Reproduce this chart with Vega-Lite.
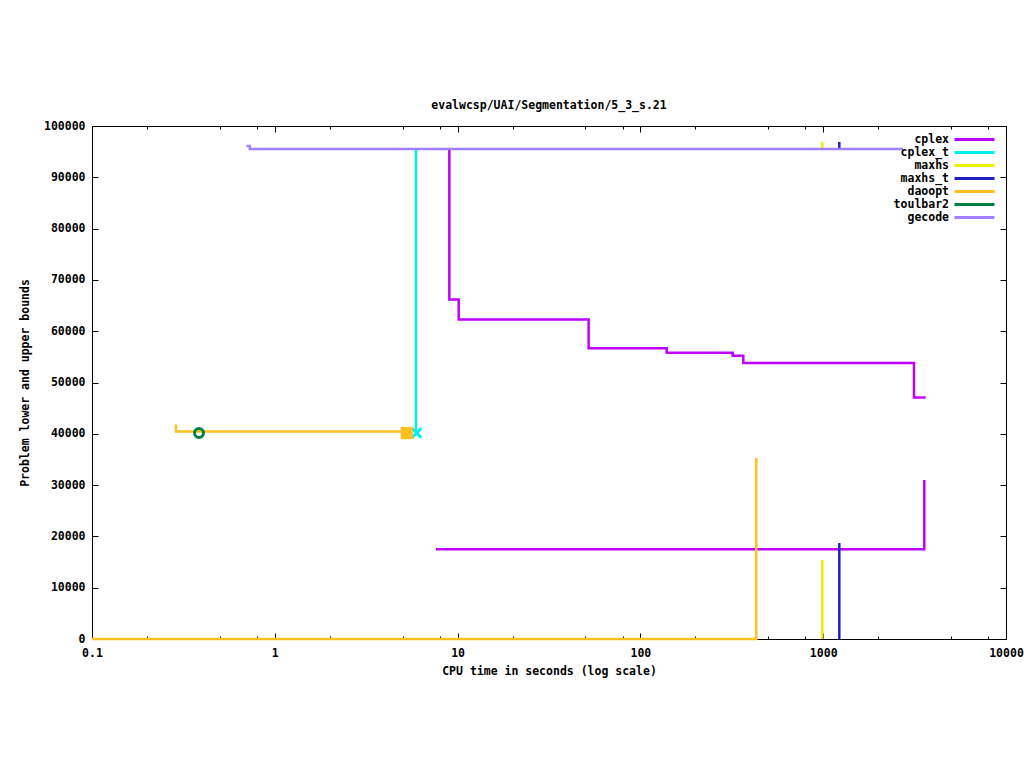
{
  "$schema": "https://vega.github.io/schema/vega-lite/v6.json",
  "width": 914,
  "height": 513,
  "autosize": "none",
  "padding": {"left": 92, "top": 126, "right": 18, "bottom": 129},
  "background": "white",
  "config": {
    "view": {"stroke": "black", "strokeWidth": 1},
    "font": "DejaVu Sans Mono",
    "axis": {
      "domain": false,
      "grid": false,
      "tickColor": "black",
      "tickWidth": 1,
      "labelColor": "black",
      "labelFont": "DejaVu Sans Mono",
      "labelFontSize": 11.5,
      "labelFontWeight": "bold",
      "titleColor": "black",
      "titleFont": "DejaVu Sans Mono",
      "titleFontSize": 11.5,
      "titleFontWeight": "bold"
    }
  },
  "title": {
    "text": "evalwcsp/UAI/Segmentation/5_3_s.21",
    "font": "DejaVu Sans Mono",
    "fontSize": 11.5,
    "fontWeight": "bold",
    "color": "black",
    "anchor": "middle",
    "offset": 9
  },
  "datasets": {
    "lines": [
      {"s": "cplex", "g": "cplex_u", "i": 1, "t": 9.01, "v": 95500},
      {"s": "cplex", "g": "cplex_u", "i": 2, "t": 9.01, "v": 66200},
      {"s": "cplex", "g": "cplex_u", "i": 3, "t": 10.14, "v": 62300},
      {"s": "cplex", "g": "cplex_u", "i": 4, "t": 52.1, "v": 56700},
      {"s": "cplex", "g": "cplex_u", "i": 5, "t": 139.3, "v": 55800},
      {"s": "cplex", "g": "cplex_u", "i": 6, "t": 319.8, "v": 55200},
      {"s": "cplex", "g": "cplex_u", "i": 7, "t": 365.6, "v": 53800},
      {"s": "cplex", "g": "cplex_u", "i": 8, "t": 3138, "v": 47100},
      {"s": "cplex", "g": "cplex_u", "i": 9, "t": 3637, "v": 47100},
      {"s": "cplex", "g": "cplex_l", "i": 1, "t": 7.62, "v": 17500},
      {"s": "cplex", "g": "cplex_l", "i": 2, "t": 3573, "v": 31000},
      {"s": "cplex_t", "g": "cplex_t_u", "i": 1, "t": 5.92, "v": 95500},
      {"s": "cplex_t", "g": "cplex_t_u", "i": 2, "t": 5.92, "v": 40150},
      {"s": "maxhs", "g": "maxhs_u", "i": 1, "t": 988.8, "v": 96900},
      {"s": "maxhs", "g": "maxhs_u", "i": 2, "t": 988.8, "v": 95500},
      {"s": "maxhs", "g": "maxhs_l", "i": 1, "t": 988.8, "v": 0},
      {"s": "maxhs", "g": "maxhs_l", "i": 2, "t": 988.8, "v": 15400},
      {"s": "maxhs_t", "g": "maxhs_t_u", "i": 1, "t": 1225, "v": 96900},
      {"s": "maxhs_t", "g": "maxhs_t_u", "i": 2, "t": 1225, "v": 95500},
      {"s": "maxhs_t", "g": "maxhs_t_l", "i": 1, "t": 1225, "v": 0},
      {"s": "maxhs_t", "g": "maxhs_t_l", "i": 2, "t": 1225, "v": 18700},
      {"s": "daoopt", "g": "daoopt_u", "i": 1, "t": 0.288, "v": 41800},
      {"s": "daoopt", "g": "daoopt_u", "i": 2, "t": 0.288, "v": 40450},
      {"s": "daoopt", "g": "daoopt_u", "i": 3, "t": 5.49, "v": 40450},
      {"s": "daoopt", "g": "daoopt_l", "i": 1, "t": 0.1, "v": 0},
      {"s": "daoopt", "g": "daoopt_l", "i": 2, "t": 430.5, "v": 35300},
      {"s": "gecode", "g": "gecode_u", "i": 1, "t": 0.70, "v": 96100},
      {"s": "gecode", "g": "gecode_u", "i": 2, "t": 0.73, "v": 95500},
      {"s": "gecode", "g": "gecode_u", "i": 3, "t": 2733, "v": 95500}
    ],
    "square": [{"s": "daoopt", "t": 5.27, "v": 40150}],
    "xmark": [{"s": "cplex_t", "t": 5.97, "v": 40150}],
    "ring": [{"s": "toulbar2", "t": 0.385, "v": 40150}]
  },
  "layer": [
    {
      "data": {"name": "lines"},
      "mark": {"type": "line", "interpolate": "step-after", "strokeWidth": 2.5},
      "encoding": {
        "x": {
          "field": "t", "type": "quantitative",
          "scale": {"type": "log", "domain": [0.1, 10000], "nice": false},
          "axis": {
            "orient": "bottom",
            "values": [0.1, 0.2, 0.5, 0.8, 1, 2, 5, 8, 10, 20, 50, 80, 100, 200, 500, 800, 1000, 2000, 5000, 8000, 10000],
            "format": "~g",
            "labelExpr": "indexof([0.1,1,10,100,1000,10000], datum.value) >= 0 ? datum.label : ''",
            "tickSize": {"condition": {"test": "indexof([0.1,1,10,100,1000,10000], datum.value) >= 0", "value": -6}, "value": -3},
            "labelPadding": 14,
            "labelDx": 3,
            "labelFlush": false,
            "title": "CPU time in seconds (log scale)",
            "titlePadding": 7
          }
        },
        "y": {
          "field": "v", "type": "quantitative",
          "scale": {"domain": [0, 100000], "nice": false, "zero": false},
          "axis": {
            "orient": "left",
            "values": [0, 10000, 20000, 30000, 40000, 50000, 60000, 70000, 80000, 90000, 100000],
            "format": "d",
            "tickSize": -6,
            "labelPadding": 13,
            "title": "Problem lower and upper bounds",
            "titlePadding": 13
          }
        },
        "color": {
          "field": "s", "type": "nominal",
          "scale": {
            "domain": ["cplex", "cplex_t", "maxhs", "maxhs_t", "daoopt", "toulbar2", "gecode"],
            "range": ["#c000ff", "#00eeee", "#eeee00", "#2020c0", "#ffc020", "#008040", "#a080ff"]
          },
          "legend": {
            "orient": "none",
            "legendX": 876,
            "legendY": 7,
            "title": null,
            "padding": 0,
            "symbolType": "M-4,0H4",
            "symbolSize": 100,
            "symbolStrokeWidth": 3,
            "labelAlign": "right",
            "labelOffset": -32,
            "labelFont": "DejaVu Sans Mono",
            "labelFontSize": 11.5,
            "labelFontWeight": "bold",
            "labelColor": "black",
            "labelLimit": 300,
            "rowPadding": 0
          }
        },
        "detail": {"field": "g"},
        "order": {"field": "i", "type": "quantitative"}
      }
    },
    {
      "data": {"name": "xmark"},
      "mark": {"type": "point", "shape": "M-1,-1L1,1M-1,1L1,-1", "filled": false, "size": 90, "strokeWidth": 3, "opacity": 1},
      "encoding": {
        "x": {
          "field": "t", "type": "quantitative",
          "scale": {"type": "log", "domain": [0.1, 10000], "nice": false},
          "axis": {
            "orient": "top",
            "values": [0.1, 0.2, 0.5, 0.8, 1, 2, 5, 8, 10, 20, 50, 80, 100, 200, 500, 800, 1000, 2000, 5000, 8000, 10000],
            "labels": false,
            "tickSize": {"condition": {"test": "indexof([0.1,1,10,100,1000,10000], datum.value) >= 0", "value": -6}, "value": -3},
            "title": null
          }
        },
        "y": {
          "field": "v", "type": "quantitative",
          "scale": {"domain": [0, 100000], "nice": false, "zero": false},
          "axis": {
            "orient": "right",
            "values": [0, 10000, 20000, 30000, 40000, 50000, 60000, 70000, 80000, 90000, 100000],
            "labels": false,
            "tickSize": -6,
            "title": null
          }
        },
        "color": {"field": "s", "type": "nominal", "legend": null}
      }
    },
    {
      "data": {"name": "square"},
      "mark": {"type": "point", "shape": "square", "filled": true, "size": 150, "opacity": 1},
      "encoding": {
        "x": {"field": "t", "type": "quantitative", "scale": {"type": "log", "domain": [0.1, 10000], "nice": false}, "axis": null},
        "y": {"field": "v", "type": "quantitative", "scale": {"domain": [0, 100000], "nice": false, "zero": false}, "axis": null},
        "color": {"field": "s", "type": "nominal", "legend": null}
      }
    },
    {
      "data": {"name": "ring"},
      "mark": {"type": "point", "shape": "circle", "filled": false, "size": 80, "strokeWidth": 3, "opacity": 1},
      "encoding": {
        "x": {"field": "t", "type": "quantitative", "scale": {"type": "log", "domain": [0.1, 10000], "nice": false}, "axis": null},
        "y": {"field": "v", "type": "quantitative", "scale": {"domain": [0, 100000], "nice": false, "zero": false}, "axis": null},
        "color": {"field": "s", "type": "nominal", "legend": null}
      }
    }
  ],
  "resolve": {"axis": {"x": "independent", "y": "independent"}}
}
